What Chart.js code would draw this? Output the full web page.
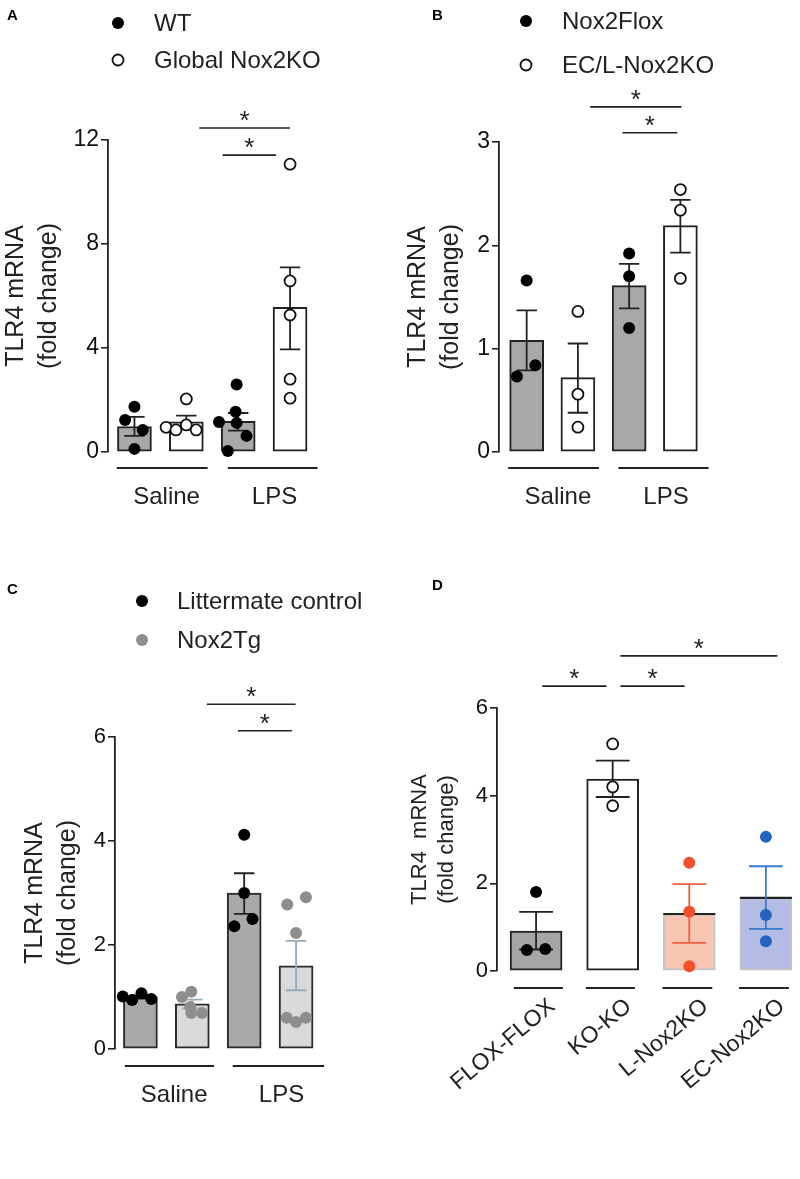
<!DOCTYPE html>
<html>
<head>
<meta charset="utf-8">
<script src="https://cdn.jsdelivr.net/npm/chart.js@4.4.1/dist/chart.umd.min.js"></script>
<style>
  html, body { margin: 0; padding: 0; background: #fff; }
  #wrap { position: relative; width: 800px; height: 1179px; background: #fff; }
  canvas { position: absolute; }
</style>
</head>
<body>
<div id="wrap">
  <canvas id="chartA" width="400" height="540" style="left:0;top:0"></canvas>
  <canvas id="chartB" width="400" height="540" style="left:400px;top:0"></canvas>
  <canvas id="chartC" width="400" height="639" style="left:0;top:540px"></canvas>
  <canvas id="chartD" width="400" height="639" style="left:400px;top:540px"></canvas>
</div>
<script>
// ---------- data ----------
var barX = [1, 2, 3, 4];
var yTitle = ['TLR4 mRNA', '(fold change)'];
var treatGroups = ['Saline', 'LPS'];

// panel A
var aSeries = ['WT', 'Global Nox2KO'];
var aYTicks = [0, 4, 8, 12];
var aMeans = [0.98, 1.16, 1.18, 5.56];
var aErrHi = [1.35, 1.4, 1.5, 7.1];
var aErrLo = [0.62, 0.95, 0.82, 3.95];
var aWtSaline = [1.74, 1.23, 0.85, 0.12];
var aWtSalineJit = [0, -0.18, 0.16, 0];
var aKoSaline = [2.04, 0.95, 0.85, 1.04, 0.85];
var aKoSalineJit = [0, -0.39, -0.2, 0, 0.19];
var aWtLps = [2.6, 1.55, 1.15, 1.12, 0.62, 0.04];
var aWtLpsJit = [-0.03, -0.05, -0.37, -0.03, 0.16, -0.2];
var aKoLps = [11.07, 6.58, 5.27, 2.8, 2.07];
var aSigFrom = [2.25, 2.7];
var aSigTo = [4.0, 3.73];
var aSigAt = [12.46, 11.42];
var aGroupFrom = [0.66, 2.8];
var aGroupTo = [2.41, 4.53];
var aGroupX = [1.62, 3.7];

// panel B
var bSeries = ['Nox2Flox', 'EC/L-Nox2KO'];
var bYTicks = [0, 1, 2, 3];
var bMeans = [1.08, 0.72, 1.61, 2.19];
var bErrHi = [1.37, 1.05, 1.82, 2.44];
var bErrLo = [0.79, 0.38, 1.39, 1.93];
var bFloxSaline = [1.66, 0.73, 0.84];
var bFloxSalineJit = [0, -0.19, 0.17];
var bKoSaline = [1.36, 0.56, 0.24];
var bFloxLps = [1.92, 1.70, 1.20];
var bKoLps = [2.54, 2.34, 1.68];
var bSigFrom = [2.24, 2.87];
var bSigTo = [4.02, 3.94];
var bSigAt = [3.34, 3.09];
var bGroupFrom = [0.64, 2.79];
var bGroupTo = [2.41, 4.55];
var bGroupX = [1.61, 3.72];

// panel C
var cSeries = ['Littermate control', 'Nox2Tg'];
var cYTicks = [0, 2, 4, 6];
var cMeans = [1.0, 0.87, 3.0, 1.6];
var cErrHi = [1.03, 0.95, 3.38, 2.08];
var cErrLo = [0.97, 0.78, 2.6, 1.13];
var cCtlSaline = [1.01, 0.94, 1.07, 0.96];
var cCtlSalineJit = [-0.34, -0.16, 0.02, 0.21];
var cTgSaline = [1.0, 1.1, 0.81, 0.69, 0.69];
var cTgSalineJit = [-0.2, -0.02, -0.04, -0.02, 0.19];
var cCtlLps = [4.12, 3.0, 2.36, 2.5];
var cCtlLpsJit = [0, 0, -0.19, 0.16];
var cTgLps = [2.78, 2.92, 2.23, 0.6, 0.52, 0.6];
var cTgLpsJit = [-0.17, 0.19, 0, -0.18, 0, 0.19];
var cSigFrom = [2.28, 2.88];
var cSigTo = [3.99, 3.92];
var cSigAt = [6.63, 6.12];
var cGroupFrom = [0.7, 2.78];
var cGroupTo = [2.42, 4.54];
var cGroupX = [1.65, 3.72];

// panel D
var dLabels = ['FLOX-FLOX', 'KO-KO', 'L-Nox2KO', 'EC-Nox2KO'];
var dYTicks = [0, 2, 4, 6];
var dMeans = [0.91, 4.38, 1.3, 1.67];
var dErrHi = [1.35, 4.8, 1.98, 2.39];
var dErrLo = [0.49, 3.97, 0.64, 0.96];
var dFlox = [1.8, 0.48, 0.5];
var dFloxJit = [0, -0.12, 0.12];
var dKoKo = [5.18, 4.2, 3.77];
var dLKo = [2.47, 1.35, 0.11];
var dEcKo = [3.06, 1.28, 0.68];
var dSigFrom = [1.08, 2.1, 2.1];
var dSigTo = [1.92, 2.94, 4.15];
var dSigAt = [6.5, 6.5, 7.19];
var dGroupFrom = [0.71, 1.65, 2.65, 3.65];
var dGroupTo = [1.35, 2.29, 3.3, 4.3];

// ---------- helpers ----------
Chart.defaults.font.family = '"Liberation Sans", Arial, sans-serif';

var INK = '#222';
var FILLED = { pointRadius: 6, pointBackgroundColor: '#000', pointBorderColor: '#000', pointBorderWidth: 0 };
var OPEN = { pointRadius: 5.5, pointBackgroundColor: '#fff', pointBorderColor: '#111', pointBorderWidth: 1.8 };

function pts(x, vals, jit) {
    return vals.map(function (v, i) {
        return { x: x + (jit ? jit[i] : 0), y: v };
    });
}

function scatterSet(label, data, style) {
    var ds = { type: 'scatter', label: label, data: data, order: 0, clip: false };
    for (var k in style) ds[k] = style[k];
    return ds;
}

function drawErrorBars(chart, p) {
    var ctx = chart.ctx;
    var ys = chart.scales.y;
    var meta = chart.getDatasetMeta(0);
    ctx.save();
    ctx.lineWidth = p.errWidth;
    meta.data.forEach(function (bar, i) {
        var x = bar.x;
        var half = bar.width * p.capFrac / 2;
        if (p.meanLine && p.meanLine[i]) {
            ctx.strokeStyle = INK;
            ctx.lineWidth = 2.2;
            ctx.beginPath();
            ctx.moveTo(x - bar.width / 2, bar.y);
            ctx.lineTo(x + bar.width / 2, bar.y);
            ctx.stroke();
            ctx.lineWidth = p.errWidth;
        }
        var yHi = ys.getPixelForValue(p.errHi[i]);
        var yLo = ys.getPixelForValue(p.errLo[i]);
        ctx.strokeStyle = p.errColors[i];
        ctx.beginPath();
        ctx.moveTo(x, yHi); ctx.lineTo(x, yLo);
        ctx.moveTo(x - half, yHi); ctx.lineTo(x + half, yHi);
        ctx.moveTo(x - half, yLo); ctx.lineTo(x + half, yLo);
        ctx.stroke();
    });
    ctx.restore();
}

function drawExtras(chart, p) {
    var ctx = chart.ctx;
    var xs = chart.scales.x, ys = chart.scales.y;
    ctx.save();
    ctx.strokeStyle = INK;
    ctx.fillStyle = INK;

    // significance bars
    ctx.lineWidth = 1.6;
    ctx.font = p.starSize + 'px "Liberation Sans", Arial, sans-serif';
    ctx.textAlign = 'center';
    ctx.textBaseline = 'alphabetic';
    p.sigFrom.forEach(function (f, i) {
        var x1 = xs.getPixelForValue(f);
        var x2 = xs.getPixelForValue(p.sigTo[i]);
        var y = ys.getPixelForValue(p.sigAt[i]);
        ctx.beginPath(); ctx.moveTo(x1, y); ctx.lineTo(x2, y); ctx.stroke();
        ctx.fillText('*', (x1 + x2) / 2, y + p.starDrop);
    });

    // group underlines
    ctx.lineWidth = 2;
    var gy = chart.chartArea.bottom + p.groupGap;
    p.groupFrom.forEach(function (f, i) {
        ctx.beginPath();
        ctx.moveTo(xs.getPixelForValue(f), gy);
        ctx.lineTo(xs.getPixelForValue(p.groupTo[i]), gy);
        ctx.stroke();
    });

    // legend built from the scatter datasets
    if (p.legend) {
        var L = p.legend;
        ctx.font = '24px "Liberation Sans", Arial, sans-serif';
        ctx.textAlign = 'left';
        ctx.textBaseline = 'middle';
        chart.data.datasets.slice(1).forEach(function (ds, i) {
            var y = L.y + i * L.dy;
            ctx.beginPath();
            ctx.arc(L.x, y, ds.pointRadius, 0, Math.PI * 2);
            ctx.fillStyle = ds.pointBackgroundColor;
            ctx.fill();
            if (ds.pointBorderWidth) {
                ctx.lineWidth = ds.pointBorderWidth;
                ctx.strokeStyle = ds.pointBorderColor;
                ctx.stroke();
            }
            ctx.fillStyle = INK;
            ctx.fillText(ds.label, L.textX, y + 1);
        });
    }

    // panel letter
    ctx.fillStyle = '#000';
    ctx.font = 'bold 15px "Liberation Sans", Arial, sans-serif';
    ctx.textAlign = 'left';
    ctx.textBaseline = 'top';
    ctx.fillText(p.letter, p.letterX, p.letterY);
    ctx.restore();
}

function buildPanel(id, p) {
    var extras = {
        id: 'panelExtras',
        afterDatasetDraw: function (chart, args) {
            if (args.index === 0) drawErrorBars(chart, p);
        },
        afterDraw: function (chart) {
            drawExtras(chart, p);
        }
    };
    var barSet = {
        type: 'bar',
        data: barX.map(function (x, i) { return { x: x, y: p.means[i] }; }),
        order: 1,
        clip: false,
        barThickness: p.barWidth,
        backgroundColor: p.barFill,
        borderColor: p.barBorder,
        borderWidth: 2,
        borderSkipped: false
    };
    return new Chart(document.getElementById(id), {
        type: 'bar',
        data: { datasets: [barSet].concat(p.scatter) },
        options: {
            responsive: false,
            animation: false,
            events: [],
            layout: { padding: { top: p.padTop, right: p.padRight, bottom: 0, left: 0 } },
            plugins: { legend: { display: false }, tooltip: { enabled: false } },
            scales: {
                x: {
                    type: 'linear',
                    min: p.xMin,
                    max: p.xMax,
                    offset: false,
                    grid: { display: false, drawTicks: false },
                    border: { display: false },
                    afterBuildTicks: function (s) {
                        s.ticks = p.xTickAt.map(function (v) { return { value: v }; });
                    },
                    afterFit: function (s) {
                        s.height = p.bottomH;
                        s.paddingLeft = 0;
                        s.paddingRight = 0;
                    },
                    ticks: {
                        autoSkip: false,
                        minRotation: p.xRot,
                        maxRotation: p.xRot,
                        padding: p.xPad,
                        labelOffset: p.xLabelOffset,
                        color: INK,
                        font: { size: p.xFont },
                        callback: function (v, i) { return p.xTickText[i]; }
                    }
                },
                y: {
                    type: 'linear',
                    min: p.yTicks[0],
                    max: p.yTicks[p.yTicks.length - 1],
                    afterBuildTicks: function (s) {
                        s.ticks = p.yTicks.map(function (v) { return { value: v }; });
                    },
                    afterFit: function (s) {
                        s.width = p.axisX;
                        s.paddingTop = 0;
                        s.paddingBottom = 0;
                    },
                    grid: { display: true, drawOnChartArea: false, drawTicks: true, tickLength: 7, color: INK, lineWidth: 1.6 },
                    border: { display: true, color: INK, width: 1.8 },
                    ticks: {
                        padding: 2,
                        color: '#111',
                        font: { size: p.yFont },
                        callback: function (v) { return String(v); }
                    },
                    title: {
                        display: true,
                        text: p.title,
                        color: INK,
                        font: { size: p.titleFont, lineHeight: p.titleLH },
                        padding: { top: p.titlePad, bottom: 0 }
                    }
                }
            }
        },
        plugins: [extras]
    });
}

// ---------- panels ----------
buildPanel('chartA', {
    letter: 'A', letterX: 7, letterY: 8,
    padTop: 140, padRight: 84, bottomH: 88, axisX: 108,
    xMin: 0.49, xMax: 4.5, xTickAt: aGroupX, xTickText: treatGroups,
    xRot: 0, xPad: 31, xLabelOffset: 0, xFont: 24,
    yTicks: aYTicks, yFont: 23, title: yTitle, titleFont: 25, titleLH: 1.3, titlePad: 0,
    means: aMeans, errHi: aErrHi, errLo: aErrLo, errColors: [INK, INK, INK, INK], errWidth: 1.8, capFrac: 0.6,
    barWidth: 34, barFill: ['#a8a8a8', '#fff', '#a8a8a8', '#fff'], barBorder: INK,
    sigFrom: aSigFrom, sigTo: aSigTo, sigAt: aSigAt, starSize: 26, starDrop: 1,
    groupFrom: aGroupFrom, groupTo: aGroupTo, groupGap: 16,
    legend: { x: 118, y: 23, dy: 37, textX: 154 },
    scatter: [
        scatterSet(aSeries[0], pts(barX[0], aWtSaline, aWtSalineJit).concat(pts(barX[2], aWtLps, aWtLpsJit)), FILLED),
        scatterSet(aSeries[1], pts(barX[1], aKoSaline, aKoSalineJit).concat(pts(barX[3], aKoLps)), OPEN)
    ]
});

buildPanel('chartB', {
    letter: 'B', letterX: 32, letterY: 8,
    padTop: 142, padRight: 94, bottomH: 88, axisX: 99,
    xMin: 0.46, xMax: 4.5, xTickAt: bGroupX, xTickText: treatGroups,
    xRot: 0, xPad: 31, xLabelOffset: 0, xFont: 24,
    yTicks: bYTicks, yFont: 23, title: yTitle, titleFont: 25, titleLH: 1.3, titlePad: 2,
    means: bMeans, errHi: bErrHi, errLo: bErrLo, errColors: [INK, INK, INK, INK], errWidth: 1.8, capFrac: 0.6,
    barWidth: 34, barFill: ['#a8a8a8', '#fff', '#a8a8a8', '#fff'], barBorder: INK,
    sigFrom: bSigFrom, sigTo: bSigTo, sigAt: bSigAt, starSize: 26, starDrop: 1,
    groupFrom: bGroupFrom, groupTo: bGroupTo, groupGap: 16,
    legend: { x: 126, y: 21, dy: 44, textX: 162 },
    scatter: [
        scatterSet(bSeries[0], pts(barX[0], bFloxSaline, bFloxSalineJit).concat(pts(barX[2], bFloxLps)), FILLED),
        scatterSet(bSeries[1], pts(barX[1], bKoSaline).concat(pts(barX[3], bKoLps)), OPEN)
    ]
});

buildPanel('chartC', {
    letter: 'C', letterX: 7, letterY: 42,
    padTop: 197, padRight: 78, bottomH: 130, axisX: 115,
    xMin: 0.51, xMax: 4.5, xTickAt: cGroupX, xTickText: treatGroups,
    xRot: 0, xPad: 32, xLabelOffset: 0, xFont: 24,
    yTicks: cYTicks, yFont: 22, title: yTitle, titleFont: 25, titleLH: 1.3, titlePad: 19,
    means: cMeans, errHi: cErrHi, errLo: cErrLo, errColors: [INK, '#93acbb', INK, '#93acbb'], errWidth: 1.8, capFrac: 0.6,
    barWidth: 34, barFill: ['#a9a9a9', '#dadada', '#a9a9a9', '#dadada'], barBorder: '#2a2a2a',
    sigFrom: cSigFrom, sigTo: cSigTo, sigAt: cSigAt, starSize: 26, starDrop: 1,
    groupFrom: cGroupFrom, groupTo: cGroupTo, groupGap: 17,
    legend: { x: 142, y: 61, dy: 39, textX: 177 },
    scatter: [
        scatterSet(cSeries[0], pts(barX[0], cCtlSaline, cCtlSalineJit).concat(pts(barX[2], cCtlLps, cCtlLpsJit)),
            { pointRadius: 6, pointBackgroundColor: '#000', pointBorderColor: '#000', pointBorderWidth: 0 }),
        scatterSet(cSeries[1], pts(barX[1], cTgSaline, cTgSalineJit).concat(pts(barX[3], cTgLps, cTgLpsJit)),
            { pointRadius: 6, pointBackgroundColor: '#8e8e8e', pointBorderColor: '#8e8e8e', pointBorderWidth: 0 })
    ]
});

buildPanel('chartD', {
    letter: 'D', letterX: 32, letterY: 38,
    padTop: 168, padRight: 3, bottomH: 208, axisX: 97,
    xMin: 0.49, xMax: 4.35, xTickAt: barX, xTickText: dLabels,
    xRot: 40, xPad: 22, xLabelOffset: 16, xFont: 23,
    yTicks: dYTicks, yFont: 22, title: ['TLR4  mRNA', '(fold change)'], titleFont: 22, titleLH: 1.25, titlePad: 6,
    means: dMeans, errHi: dErrHi, errLo: dErrLo, errColors: [INK, INK, '#f0603e', '#3a7ccc'], errWidth: 1.8, capFrac: 0.65,
    meanLine: [false, false, true, true],
    barWidth: 52, barFill: ['#a6a6a6', '#fff', '#f8c5b3', '#b3bce3'], barBorder: [INK, INK, '#c4c4c4', '#c4c4c4'],
    sigFrom: dSigFrom, sigTo: dSigTo, sigAt: dSigAt, starSize: 26, starDrop: 1,
    groupFrom: dGroupFrom, groupTo: dGroupTo, groupGap: 17,
    legend: null,
    scatter: [
        scatterSet(dLabels[0], pts(barX[0], dFlox, dFloxJit), FILLED),
        scatterSet(dLabels[1], pts(barX[1], dKoKo), OPEN),
        scatterSet(dLabels[2], pts(barX[2], dLKo), { pointRadius: 6, pointBackgroundColor: '#f2512c', pointBorderColor: '#f2512c', pointBorderWidth: 0 }),
        scatterSet(dLabels[3], pts(barX[3], dEcKo), { pointRadius: 6, pointBackgroundColor: '#2463c0', pointBorderColor: '#2463c0', pointBorderWidth: 0 })
    ]
});
</script>
</body>
</html>
